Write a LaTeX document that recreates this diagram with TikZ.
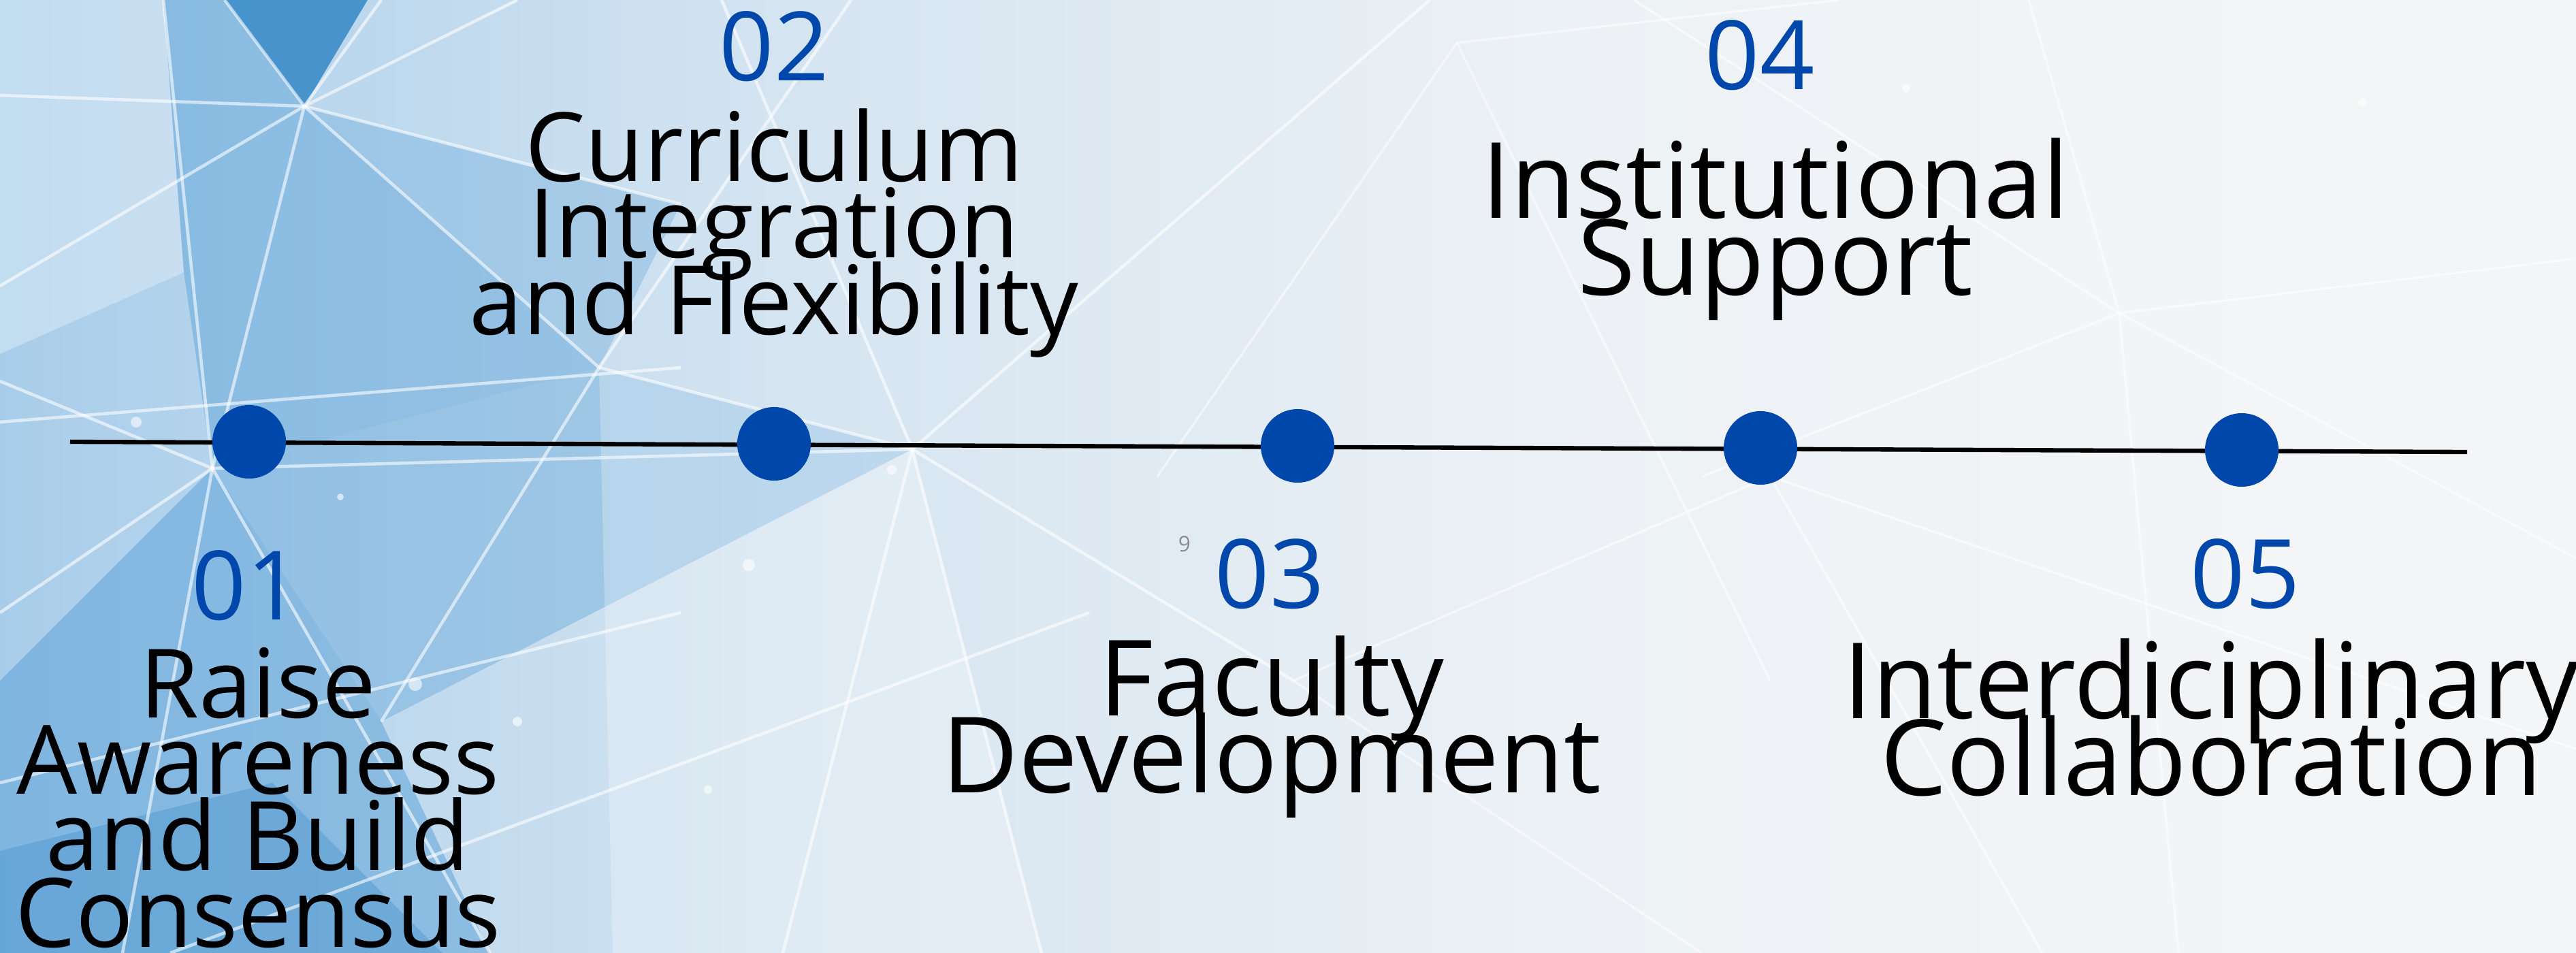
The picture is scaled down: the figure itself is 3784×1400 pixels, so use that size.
\documentclass[tikz,border=0pt]{standalone}
\usepackage{fontspec}
\setmainfont{Open Sans}
\lineskiplimit=-100pt
\lineskip=0pt
\definecolor{dotblue}{RGB}{0,71,171}
\definecolor{numgray}{RGB}{140,140,140}
\definecolor{bgA}{RGB}{170,206,234}
\definecolor{bgB}{RGB}{135,188,228}
\definecolor{bgC}{RGB}{168,205,234}
\definecolor{bgD}{RGB}{212,228,241}
\definecolor{bgE}{RGB}{236,241,245}
\definecolor{bgF}{RGB}{244,245,247}
\definecolor{bgG}{RGB}{247,247,248}
\definecolor{blueM}{RGB}{88,160,215}
\definecolor{blueD}{RGB}{60,140,200}
\pgfdeclarehorizontalshading{bgshade}{100bp}{color(0bp)=(bgA); color(12bp)=(bgB); color(25bp)=(bgC); color(40bp)=(bgD); color(55bp)=(bgE); color(70bp)=(bgF); color(100bp)=(bgG)}
\tikzset{
  numtext/.style={text=dotblue, font=\fontsize{40}{32}\selectfont, inner sep=0pt, anchor=base},
  steptext/.style={text=black, align=center, font=\fontsize{40}{31.9}\selectfont, inner sep=0pt, anchor=base},
  steptextL/.style={steptext, font=\fontsize{44}{32}\selectfont},
  stepdot/.style={circle, fill=dotblue, inner sep=0pt, minimum size=1.08cm},
  netline/.style={white, opacity=0.6, line width=1.3pt},
  faintline/.style={white, opacity=0.5, line width=1pt},
  glow/.style={white, opacity=0.6}
}
\begin{document}
\begin{tikzpicture}[x=0.01cm, y=-0.01cm]
\useasboundingbox (0,0) rectangle (3784,1400);
% background
\shade[shading=bgshade] (0,0) rectangle (3784,1400);
\begin{scope}
\clip (0,0) rectangle (3784,1400);
\fill[white, opacity=0.3] (0,0) -- (240,0) -- (270,400) -- (0,520) -- cycle;
\fill[blueM, opacity=0.45] (240,0) -- (330,0) -- (447,156) -- (880,540) -- (312,688) -- (270,400) -- cycle;
\fill[blueD, opacity=0.9] (330,0) -- (540,0) -- (447,156) -- cycle;
\fill[blueM, opacity=0.3] (447,156) -- (1000,300) -- (880,540) -- cycle;
\fill[blueM, opacity=0.5] (0,1000) -- (312,688) -- (560,1060) -- (720,1400) -- (0,1400) -- cycle;
\fill[blueD, opacity=0.35] (0,1250) -- (400,1150) -- (650,1400) -- (0,1400) -- cycle;
\fill[blueM, opacity=0.38] (312,688) -- (880,540) -- (1340,660) -- (560,1060) -- cycle;
\fill[white, opacity=0.25] (880,540) -- (1340,660) -- (1530,1400) -- (900,1400) -- cycle;
% network lines
\draw[netline] (447,156) -- (0,140);
\draw[netline] (447,156) -- (0,420);
\draw[netline] (447,156) -- (330,0);
\draw[netline] (447,156) -- (560,0);
\draw[netline] (447,156) -- (880,540);
\draw[netline] (447,156) -- (312,688);
\draw[netline] (447,156) -- (1000,300);
\draw[netline] (447,156) -- (760,0);
\draw[netline] (312,688) -- (0,560);
\draw[netline] (312,688) -- (240,0);
\draw[netline] (312,688) -- (720,1400);
\draw[netline] (312,688) -- (180,1400);
\draw[netline] (312,688) -- (1340,660);
\draw[netline] (312,688) -- (0,900);
\draw[netline] (0,620) -- (1000,540);
\draw[netline] (1340,660) -- (1060,0);
\draw[netline] (1340,660) -- (1530,1400);
\draw[netline] (1340,660) -- (2100,0);
\draw[netline] (1340,660) -- (1900,1000);
\draw[netline] (1340,660) -- (880,540);
\draw[netline] (1340,660) -- (1150,1400);
\draw[netline] (880,540) -- (1250,0);
\draw[netline] (880,540) -- (560,1060);
\draw[netline] (0,1150) -- (1000,900);
\draw[netline] (250,1400) -- (1600,900);
\draw[faintline] (1900,1000) -- (2500,1400);
\draw[faintline] (1900,1000) -- (2600,700);
\draw[faintline] (2140,63) -- (2600,1000);
\draw[faintline] (2140,63) -- (1700,700);
\draw[faintline] (2140,63) -- (2700,0);
\draw[faintline] (3113,460) -- (2980,0);
\draw[faintline] (3113,460) -- (3784,380);
\draw[faintline] (3113,460) -- (2500,700);
\draw[faintline] (3113,460) -- (3784,820);
\draw[faintline] (3113,460) -- (3200,1400);
\draw[faintline] (2600,700) -- (3000,1400);
\draw[faintline] (2600,700) -- (3784,1100);
\draw[faintline] (2400,0) -- (3113,460);
% glow dots
\fill[glow] (200,620) circle (8);
\fill[glow] (500,730) circle (5);
\fill[glow] (610,1005) circle (10);
\fill[glow] (760,1060) circle (7);
\fill[glow] (1100,830) circle (9);
\fill[glow] (1040,1160) circle (6);
\fill[glow] (1310,690) circle (7);
\fill[glow] (1480,450) circle (6);
\fill[glow] (560,1420) circle (7);
\fill[glow] (2800,130) circle (6);
\fill[glow] (3470,150) circle (6);
\end{scope}
% timeline
\coordinate (lineL) at (103,649);
\coordinate (lineR) at (3624,664);
\draw[black, line width=1.8pt] (lineL) -- (lineR);
\node[stepdot] (d1) at (366,649) {};
\node[stepdot] (d2) at (1137,652) {};
\node[stepdot] (d3) at (1906,655) {};
\node[stepdot] (d4) at (2586,658) {};
\node[stepdot] (d5) at (3293,661) {};
% labels (base anchor = baseline of the last line)
\node[numtext] (n2) at (1137,119) {02};
\node[steptext] (t2) at (1137,491) {Curriculum\\Integration\\and Flexibility};
\node[numtext] (n4) at (2585,132) {04};
\node[steptextL] (t4) at (2608,433) {Institutional\\Support};
\node[numtext] (n1) at (362,910) {01};
\node[steptext] (t1) at (379,1391) {Raise\\Awareness\\and Build\\Consensus};
\node[numtext] (n3) at (1865,893) {03};
\node[steptextL] (t3) at (1868,1164) {Faculty\\Development};
\node[numtext] (n5) at (3298,893) {05};
\node[steptextL] (t5) at (3248,1168) {Interdiciplinary\\Collaboration};
\node[text=numgray, font=\fontsize{9}{10}\selectfont, inner sep=0pt, anchor=base] (pg) at (1740,810) {9};
\end{tikzpicture}
\end{document}
